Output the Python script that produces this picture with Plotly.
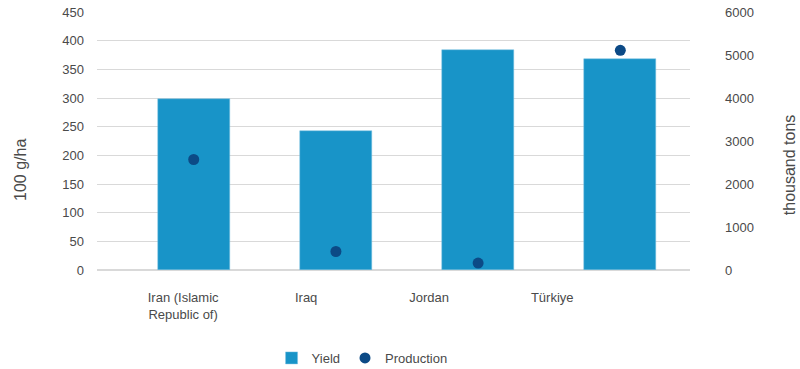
import plotly.graph_objects as go

countries = ["Iran (Islamic<br>Republic of)", "Iraq", "Jordan", "Türkiye"]
yield_vals = [298, 243, 384, 368]          # 100 g/ha
production_vals = [2570, 430, 160, 5110]   # thousand tons
y_ticks = [0, 50, 100, 150, 200, 250, 300, 350, 400, 450]
y2_ticks = [0, 1000, 2000, 3000, 4000, 5000, 6000]
y_title = "100 g/ha"
y2_title = "thousand tons"

FONT = "Liberation Sans, Arial, sans-serif"
TXT = "#4a4a4a"
idx = list(range(len(countries)))

fig = go.Figure()
fig.add_trace(go.Bar(x=idx, y=yield_vals, name="Yield", marker_color="#1894c8",
                     marker_line_color="#7cc3e3", marker_line_width=0.5,
                     width=0.506, xaxis="x", yaxis="y"))
fig.add_trace(go.Scatter(x=idx, y=production_vals, name="Production", mode="markers",
                         marker=dict(color="#0c4a86", size=11), xaxis="x", yaxis="y2"))
# invisible trace to carry category labels on the label axis
fig.add_trace(go.Scatter(x=idx, y=[0]*len(idx), mode="markers", marker=dict(opacity=0),
                         showlegend=False, hoverinfo="skip", xaxis="x2", yaxis="y"))

fig.update_layout(
    width=800, height=369,
    margin=dict(l=97, r=110, t=12, b=99, autoexpand=False),
    plot_bgcolor="white", paper_bgcolor="white",
    font=dict(family=FONT, size=13, color=TXT),
    bargap=0,
    xaxis=dict(range=[-0.68, 3.49], showticklabels=False, showgrid=False,
               zeroline=False, showline=False, ticks="", automargin=False),
    xaxis2=dict(overlaying="x", side="bottom", range=[-0.70, 4.12],
                tickmode="array", tickvals=idx, ticktext=countries,
                showgrid=False, zeroline=False, showline=False, ticks="",
                ticklabelstandoff=18, automargin=False,
                tickfont=dict(size=13, color=TXT)),
    yaxis=dict(range=[0, 450], tickvals=y_ticks, showgrid=True, gridcolor="#d9d9d9",
               gridwidth=1, zeroline=True, zerolinecolor="#d9d9d9", showline=False,
               ticks="", ticklabelstandoff=12, automargin=False),
    yaxis2=dict(range=[0, 6000], tickvals=y2_ticks, overlaying="y", side="right",
                showgrid=False, zeroline=False, showline=False, ticks="",
                ticklabelstandoff=34, automargin=False),
    legend=dict(orientation="h", x=0.447, xanchor="center", yref="container",
                y=0.03, yanchor="middle",
                font=dict(size=13, color=TXT), itemwidth=30),
    annotations=[
        dict(text=y_title, textangle=-90, xref="paper", yref="paper", x=-0.128, y=0.388,
             xanchor="center", yanchor="middle", showarrow=False,
             font=dict(size=16, color=TXT)),
        dict(text=y2_title, textangle=-90, xref="paper", yref="paper", x=1.169, y=0.407,
             xanchor="center", yanchor="middle", showarrow=False,
             font=dict(size=16, color=TXT)),
    ],
)

fig.write_html("out.html")
